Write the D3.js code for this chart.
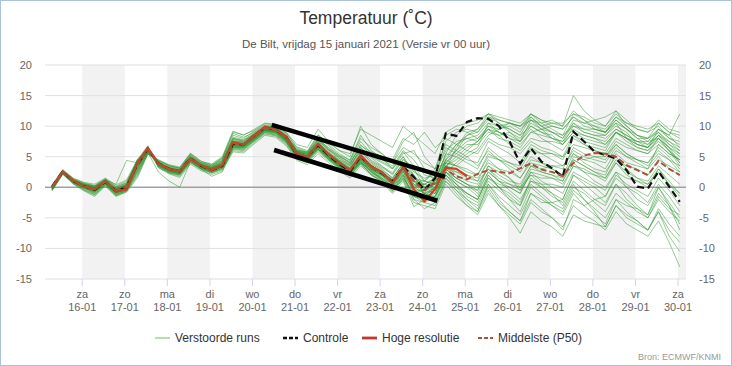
<!DOCTYPE html>
<html><head><meta charset="utf-8">
<script src="https://cdn.jsdelivr.net/npm/d3@7"></script>
<style>body{margin:0;background:#fff;} svg{display:block;font-family:"Liberation Sans",Arial,sans-serif;}</style>
</head><body><svg id="chart" width="732" height="366"></svg>
<script>
// time of each step: hours (local time) after 15-01 00:00
const hours = [7,13,19,25,31,37,43,49,55,61,67,73,79,85,91,97,103,109,115,121,127,133,139,145,151,157,163,169,175,181,187,193,199,205,211,217,223,229,235,241,247,253,259,265,271,277,283,289,295,301,307,313,319,325,331,337,343,349,355,361];

const tickHours = [24,48,72,96,120,144,168,192,216,240,264,288,312,336,360];
const tickDays  = ["za","zo","ma","di","wo","do","vr","za","zo","ma","di","wo","do","vr","za"];
const tickDates = ["16-01","17-01","18-01","19-01","20-01","21-01","22-01","23-01","24-01","25-01","26-01","27-01","28-01","29-01","30-01"];
const yTicks = [-15,-10,-5,0,5,10,15,20];
const bandStartHours = [24,72,120,168,216,264,312,360];

// Verstoorde runs (ensemble members)
const ensembleRuns = [
[-0.3,2.4,0.8,0.0,-0.8,0.6,-1.0,-0.2,2.5,5.8,4.0,3.2,2.8,5.0,3.8,3.2,4.2,8.0,7.5,8.8,9.8,9.9,8.6,6.0,5.5,7.5,6.0,4.5,3.5,6.0,4.0,3.0,1.5,4.0,2.0,-1.0,2.0,7.5,9.0,9.5,9.0,11.0,10.0,9.5,8.5,11.5,10.0,9.0,8.5,12.0,11.0,10.0,9.0,11.0,9.5,8.0,7.0,9.0,7.0,6.0],
[0.2,2.6,1.2,0.4,0.0,1.1,-0.3,0.5,4.2,6.5,3.5,2.6,2.2,4.3,3.2,2.5,3.2,6.5,6.2,7.8,9.2,8.8,7.5,5.0,4.6,6.2,5.0,3.6,2.5,4.5,3.0,2.0,0.5,2.5,0.0,0.5,1.5,4.5,6.0,7.5,8.0,10.0,9.5,10.0,9.0,12.0,11.0,10.5,10.0,12.5,11.0,9.5,9.0,11.5,10.0,8.5,8.0,10.5,9.0,8.5],
[-0.5,2.2,0.6,-0.4,-1.2,0.4,-1.3,-0.6,2.0,5.5,4.2,3.4,3.0,5.3,4.0,3.5,4.8,8.5,8.0,9.2,10.2,10.0,8.8,6.5,5.8,8.2,6.8,5.2,4.0,6.5,4.8,3.5,2.0,4.5,2.8,1.0,0.5,3.5,5.0,6.5,7.5,9.5,8.0,7.5,6.5,9.0,8.5,8.0,7.5,10.5,9.5,9.0,8.5,10.0,9.0,7.0,6.5,8.5,7.5,6.5],
[0.1,2.5,1.0,0.3,-0.2,1.0,-0.4,0.3,4.5,6.0,3.6,2.7,2.3,4.5,3.3,2.6,3.4,7.2,7.0,8.0,9.4,9.0,7.8,5.4,4.8,7.0,5.5,4.2,3.2,6.5,5.0,4.0,3.0,5.5,6.0,3.0,1.0,5.5,8.5,10.0,10.5,12.0,11.0,10.5,9.5,11.0,10.5,11.0,10.0,15.0,12.5,11.0,10.0,12.0,10.5,9.5,9.0,10.0,8.0,7.5],
[0.0,2.7,1.3,0.6,0.2,1.3,0.0,0.8,4.0,6.6,3.2,2.4,2.0,4.2,3.0,2.4,3.0,6.2,6.0,7.5,9.0,8.5,7.2,4.8,4.2,6.0,4.5,3.2,2.0,4.0,2.8,1.5,0.0,2.0,-0.5,-0.5,-1.0,2.5,4.0,5.5,6.5,10.5,9.0,8.0,7.5,11.0,10.0,10.5,10.5,12.0,11.5,10.5,10.0,12.5,11.0,9.5,9.0,11.0,9.5,9.0],
[-0.2,2.3,0.9,0.1,-0.5,0.8,-0.7,0.0,3.5,6.0,4.4,3.5,3.2,5.5,4.2,3.8,5.0,9.2,8.5,9.5,10.5,10.3,9.0,7.0,6.5,9.5,7.5,6.0,5.0,10.0,7.0,5.5,4.0,7.5,9.0,5.0,3.0,4.0,3.5,5.0,6.0,8.5,9.5,10.5,10.0,11.5,10.0,9.0,8.0,10.5,9.0,8.5,8.5,10.5,8.0,7.0,6.5,8.0,6.5,5.0],
[0.3,2.5,1.1,0.2,-0.4,0.9,-0.8,-0.3,3.0,6.3,3.9,3.0,2.6,4.8,3.6,3.0,3.8,7.5,7.2,8.4,9.5,9.2,7.9,5.2,4.4,6.4,4.8,3.4,2.2,4.4,2.6,1.2,-0.5,1.5,-1.0,-1.5,0.0,4.0,5.5,7.0,7.0,9.0,8.5,9.0,8.0,10.5,9.5,9.0,8.0,11.0,10.5,11.0,11.5,12.5,10.0,8.5,7.5,9.5,8.5,12.0],
[-0.1,2.6,1.0,0.3,-0.1,1.2,-0.2,0.4,4.4,6.2,3.7,2.8,2.4,4.6,3.4,2.8,3.5,6.8,6.6,8.0,9.8,9.6,8.4,6.2,5.6,7.8,6.4,5.0,4.2,7.5,5.5,4.5,3.5,6.0,4.5,2.0,1.5,5.0,7.0,8.5,9.0,11.5,10.5,9.5,8.5,10.0,9.0,8.5,7.0,9.0,8.5,8.0,7.5,9.5,8.5,7.5,7.0,8.5,7.0,5.5],
[0.0,2.4,0.9,0.0,-0.6,0.7,-0.9,-0.4,2.8,5.9,4.1,3.3,2.9,5.1,3.9,3.4,4.5,8.2,7.8,8.9,10.0,9.7,8.2,5.8,5.2,7.2,5.6,4.4,3.6,5.8,4.2,3.2,2.2,4.6,3.0,0.0,-0.5,3.0,6.5,9.0,9.5,12.0,10.5,9.0,7.5,9.5,8.0,7.0,6.0,8.5,7.5,7.0,6.5,9.0,8.0,6.5,6.0,7.5,6.0,4.5],
[0.2,2.7,1.2,0.5,0.1,1.1,-0.1,0.6,4.1,6.4,3.4,2.5,2.1,4.1,3.1,2.6,3.3,6.6,6.4,7.6,8.8,8.6,7.4,4.9,4.5,6.5,4.9,3.5,2.4,4.2,2.8,1.8,0.2,2.2,-1.5,-2.0,-0.5,3.5,4.5,6.0,7.5,10.0,9.0,8.0,7.0,9.0,9.5,10.0,9.5,11.5,10.0,9.5,9.0,10.5,9.5,8.5,8.0,9.0,7.5,6.0],
[-0.4,2.3,0.7,-0.2,-1.0,0.5,-1.2,-0.5,2.2,5.6,4.3,3.6,3.1,5.4,4.1,3.6,4.6,8.8,8.2,9.0,10.1,9.8,8.5,6.3,5.7,8.0,6.2,4.8,3.8,7.0,5.2,4.2,3.2,5.8,3.5,1.0,2.5,6.0,7.5,8.0,7.5,9.5,8.5,7.0,6.0,8.0,7.5,7.5,7.0,10.0,9.0,8.5,8.0,9.5,8.5,7.5,7.5,8.0,6.0,4.0],
[0.1,2.5,1.0,0.2,-0.3,1.0,-0.6,0.2,3.7,6.1,3.8,2.9,2.6,4.7,3.5,3.0,3.9,7.1,6.8,8.1,9.6,9.4,8.0,5.7,5.1,6.9,5.3,4.0,3.0,5.0,3.6,2.6,1.4,3.8,1.5,0.5,0.0,4.5,7.0,8.0,8.5,10.5,10.0,10.5,10.0,12.0,10.5,9.5,8.5,10.0,9.5,9.5,9.0,11.0,9.5,8.0,8.0,9.5,8.0,7.0],
[0.0,2.5,1.1,0.3,-0.2,0.9,-0.5,0.1,3.9,6.2,3.9,3.0,2.7,4.8,3.6,3.1,3.7,7.3,7.0,8.3,9.7,9.5,8.2,5.9,5.3,7.3,5.8,4.3,3.0,5.5,3.5,2.5,1.0,3.0,0.5,-1.0,-0.5,3.0,2.5,2.0,1.5,4.0,3.0,2.5,1.5,4.5,4.0,3.5,3.0,6.5,5.5,5.0,4.5,7.0,5.5,4.5,4.0,6.0,4.5,3.5],
[-0.2,2.4,0.8,0.0,-0.7,0.6,-1.1,-0.5,2.6,5.7,4.0,3.1,2.7,4.9,3.7,3.2,4.1,7.8,7.4,8.6,9.9,9.6,8.3,5.6,4.8,6.6,5.0,3.7,2.6,4.6,3.0,2.2,0.8,3.0,1.0,0.0,1.0,3.5,2.0,1.0,0.5,3.0,1.5,0.5,-0.5,3.0,2.5,2.0,1.5,4.5,3.5,2.5,2.0,5.5,4.0,3.5,3.0,7.0,5.5,4.5],
[0.3,2.8,1.4,0.7,0.3,1.4,0.2,1.0,4.3,6.7,3.3,2.3,1.8,4.0,2.9,2.3,2.9,6.0,5.8,7.3,8.7,8.4,7.0,4.6,4.0,5.8,4.3,3.0,1.8,3.8,2.2,1.2,-0.4,1.6,-1.5,-2.0,-1.5,2.5,1.5,0.5,0.0,3.5,2.5,1.5,0.0,3.5,3.0,3.5,3.5,6.0,5.0,4.5,4.0,6.5,5.0,4.0,3.0,5.0,3.0,2.0],
[-0.1,2.5,1.0,0.2,-0.4,0.9,-0.6,0.0,3.6,6.0,3.9,3.0,2.6,4.7,3.5,3.0,3.7,7.0,6.9,8.2,9.5,9.2,7.9,5.5,5.1,7.0,5.4,4.1,3.0,5.0,3.4,2.5,1.2,3.4,1.0,1.0,0.5,3.0,1.5,0.5,-1.0,2.5,1.0,0.5,0.0,2.0,1.5,1.5,1.0,5.0,4.5,5.0,5.0,7.5,6.5,6.0,5.5,8.0,6.5,5.5],
[0.0,2.6,1.1,0.4,0.0,1.0,-0.3,0.3,4.0,6.3,3.6,2.7,2.4,4.5,3.3,2.7,3.4,6.7,6.6,7.9,9.3,9.0,7.7,5.3,4.7,6.5,4.8,3.6,2.5,4.5,2.9,1.9,0.3,2.6,-0.8,-0.5,0.5,2.0,0.5,-1.0,-2.0,1.5,0.5,0.0,-1.0,2.5,2.0,1.5,0.5,3.5,3.0,2.0,1.0,4.0,2.0,1.0,0.0,3.0,1.0,-1.0],
[-0.6,2.1,0.5,-0.6,-1.5,0.2,-1.5,-0.8,1.5,5.4,4.5,3.7,3.3,5.6,4.3,3.7,4.8,9.0,8.6,9.3,10.4,10.2,8.9,6.6,6.0,8.6,7.0,5.5,4.4,8.5,6.0,4.8,3.0,5.0,2.0,-1.5,-1.0,3.5,2.5,1.5,1.0,3.0,1.0,-0.5,-2.0,1.0,0.5,0.5,0.0,3.5,2.5,2.0,1.5,4.5,3.5,3.0,2.0,4.5,3.5,2.5],
[0.2,2.6,1.2,0.5,0.0,1.2,-0.2,0.5,4.3,6.5,3.6,2.7,2.3,4.4,3.3,2.7,3.4,6.8,6.5,7.8,9.3,9.1,7.8,5.4,4.9,6.7,5.1,3.8,2.6,4.7,3.2,2.1,0.6,2.8,0.2,0.5,1.5,4.0,3.5,3.0,2.0,5.0,4.5,4.0,3.5,6.5,5.5,4.5,3.5,5.5,4.0,3.0,2.5,5.0,3.0,1.5,1.0,3.5,2.0,0.5],
[-0.3,2.3,0.8,-0.1,-0.9,0.6,-1.0,-0.3,3.2,6.0,4.1,3.2,2.8,4.9,3.7,3.3,4.2,7.6,7.4,8.5,9.9,9.6,8.3,5.9,5.4,7.4,5.7,4.3,3.3,5.6,3.8,2.8,1.6,3.9,1.2,-1.0,0.0,2.5,1.0,0.0,-0.5,3.5,2.0,1.0,0.5,3.5,2.5,2.0,1.0,4.0,2.5,1.0,0.0,2.5,1.5,1.0,0.5,3.0,0.5,-1.5],
[0.1,2.6,1.1,0.3,-0.2,1.0,-0.4,0.2,3.8,6.2,3.7,2.8,2.4,4.5,3.4,2.8,3.5,6.8,6.7,8.0,9.4,9.1,7.7,5.2,4.6,6.3,4.6,3.3,2.2,4.0,2.4,1.4,-0.2,1.8,-1.5,-2.5,-3.0,1.0,-0.5,-2.0,-3.0,0.5,-1.5,-3.0,-4.5,-1.0,-2.0,-3.0,-4.0,-0.5,-2.0,-3.5,-5.0,-2.0,-4.0,-5.5,-7.0,-4.0,-8.0,-10.5],
[-0.2,2.4,0.9,0.1,-0.5,0.8,-0.8,-0.1,3.4,6.0,4.0,3.1,2.7,4.8,3.6,3.1,3.9,7.4,7.2,8.4,9.7,9.4,8.1,5.7,5.2,7.1,5.4,4.0,2.9,5.2,3.5,2.4,0.9,3.1,0.0,-1.0,-2.0,2.0,0.5,-1.5,-2.5,1.0,-0.5,-2.0,-3.0,0.5,-1.0,-2.5,-3.5,0.0,-1.0,-2.5,-4.0,-1.0,-2.5,-4.0,-5.0,-2.0,-4.0,-5.5],
[0.0,2.5,1.0,0.2,-0.3,0.9,-0.5,0.1,3.7,6.1,3.8,2.9,2.5,4.6,3.5,2.9,3.6,6.9,6.8,8.1,9.5,9.2,7.8,5.4,4.8,6.6,4.9,3.5,2.3,4.2,2.5,1.3,-0.4,1.2,-2.5,-3.0,-3.5,0.5,-1.5,-3.0,-4.5,-1.0,-3.0,-4.5,-6.0,-2.5,-4.0,-5.0,-6.5,-3.0,-4.5,-5.5,-7.0,-4.0,-6.0,-7.0,-8.0,-5.5,-9.0,-13.0],
[0.4,2.9,1.5,0.8,0.5,1.5,0.4,1.2,4.5,6.8,3.2,2.2,1.6,3.8,2.7,2.1,2.7,5.8,5.6,7.1,8.5,8.2,6.8,4.4,3.7,5.5,4.0,2.7,1.5,3.5,2.0,1.0,-0.6,2.0,0.5,0.0,-1.0,2.5,1.0,0.0,-1.5,2.0,0.0,-1.5,-3.0,1.5,0.0,-1.5,-2.5,1.0,-0.5,-2.0,-3.0,0.5,-1.0,-3.0,-4.5,0.0,-2.5,-5.0],
[-0.5,2.2,0.6,-0.5,-1.3,0.3,-1.4,-0.7,1.8,5.5,4.4,3.5,3.1,5.2,4.0,3.5,4.4,8.0,7.7,8.7,9.9,9.7,8.4,5.8,5.0,6.8,5.0,3.5,2.3,4.0,2.0,0.8,-1.0,1.0,-3.2,-2.0,-1.5,1.5,-0.5,-2.5,-4.0,-0.5,-3.0,-5.0,-7.5,-4.0,-5.5,-6.5,-8.0,-4.5,-5.5,-6.0,-6.5,-3.0,-5.0,-6.0,-7.0,-4.0,-7.0,-9.0],
[0.1,2.5,1.0,0.3,-0.2,0.9,-0.5,0.2,3.9,6.3,3.8,2.9,2.5,4.6,3.5,2.9,3.6,7.0,6.9,8.2,9.6,9.3,8.0,5.6,5.0,6.8,5.2,3.9,2.8,4.9,3.3,2.4,1.0,3.2,-0.5,-1.5,-2.5,1.5,0.0,-1.0,-2.0,1.5,0.0,-1.0,-2.5,1.0,0.0,-1.0,-2.0,2.0,0.5,-1.0,-2.5,0.5,-2.0,-3.5,-5.0,-1.5,-3.5,-4.5],
[-0.1,2.4,0.9,0.0,-0.5,0.8,-0.7,0.0,3.5,6.0,3.9,3.0,2.6,4.7,3.6,3.0,3.8,7.2,7.0,8.3,9.7,9.4,8.1,5.8,5.2,7.1,5.5,4.1,3.0,5.1,3.4,2.5,1.1,3.3,1.0,0.5,-0.5,3.0,1.5,0.5,-0.5,2.5,1.0,0.0,-1.0,2.5,1.0,0.0,-1.0,2.5,1.5,0.5,-0.5,2.5,0.0,-2.0,-3.0,0.0,-3.0,-7.0],
[0.0,2.5,1.1,0.4,0.2,1.2,0.5,4.4,4.0,5.8,3.5,2.6,2.2,4.3,3.1,2.5,3.1,6.4,6.3,7.7,9.1,8.9,7.6,5.1,4.5,6.3,4.7,3.4,2.3,4.4,2.9,2.0,0.5,2.9,1.5,1.0,3.0,8.5,9.5,9.0,8.0,9.5,9.0,8.5,7.5,10.0,9.0,8.0,7.5,9.5,8.5,8.0,7.0,9.0,8.0,7.0,6.5,8.5,6.5,4.0],
[-0.4,2.2,0.7,-0.3,-1.1,0.4,-1.2,-0.6,2.4,5.7,2.5,1.0,0.0,4.2,3.0,1.8,2.5,6.5,6.6,8.0,9.3,9.0,7.6,5.2,4.7,6.6,5.0,3.6,2.6,4.8,3.2,2.3,0.9,3.5,2.0,0.0,0.5,4.5,3.5,2.5,2.0,5.5,4.5,3.5,2.5,5.0,4.0,3.0,2.0,4.5,3.5,2.5,1.5,4.0,2.5,1.5,0.5,2.5,0.5,-1.0],
[0.1,2.5,1.0,0.2,-0.3,0.9,-0.6,0.1,3.6,6.2,3.8,2.8,2.5,4.6,3.4,2.9,3.7,7.1,6.9,8.1,9.5,9.3,8.0,5.8,5.4,7.6,6.2,5.0,4.0,6.8,5.8,5.0,4.5,8.0,7.0,9.0,6.5,8.0,7.0,6.0,5.5,8.0,7.0,6.5,5.5,7.5,6.5,6.0,5.0,7.0,6.5,6.0,5.5,8.0,7.0,6.0,5.5,7.0,5.5,4.5],
[-0.2,2.4,0.9,0.1,-0.6,0.7,-0.8,-0.2,3.3,6.0,4.0,3.1,2.7,4.9,3.7,3.2,4.0,7.6,7.3,8.5,9.8,9.5,8.2,5.9,5.6,7.8,6.5,5.2,4.5,8.0,6.5,5.5,4.0,6.5,5.5,4.0,3.0,7.0,6.0,5.0,3.5,6.0,4.5,3.0,1.5,4.0,3.5,3.0,2.0,5.5,4.5,4.0,3.0,6.0,5.0,4.5,4.0,6.5,5.0,3.0],
[0.2,2.6,1.1,0.3,-0.2,1.0,-0.5,0.2,3.8,6.3,3.7,2.8,2.4,4.5,3.4,2.8,3.5,6.9,6.8,8.0,9.4,9.1,7.8,5.3,4.7,6.5,4.8,3.4,2.2,4.2,2.6,1.6,0.0,2.0,-2.0,-3.5,-2.5,1.0,-1.0,-3.0,-4.0,0.5,-2.0,-4.0,-5.5,-1.0,-2.5,-2.5,-2.0,2.0,1.0,0.0,-1.5,2.0,0.5,-0.5,-1.5,1.5,-0.5,-3.0],
[-0.3,2.3,0.8,-0.1,-0.8,0.6,-0.9,-0.4,2.9,5.9,4.1,3.2,2.8,5.0,3.8,3.3,4.3,7.9,7.6,8.7,10.0,9.7,8.4,6.1,5.5,7.7,6.1,4.7,3.7,6.2,4.4,3.4,2.4,5.0,2.5,1.5,2.0,6.5,5.5,4.5,4.0,7.5,6.5,5.5,4.0,7.0,6.0,5.5,4.5,8.0,7.0,6.5,6.0,9.0,7.5,6.5,6.0,8.0,6.0,3.5],
[0.0,2.6,1.2,0.4,-0.1,1.1,-0.3,0.4,4.1,6.4,3.6,2.6,2.2,4.4,3.2,2.6,3.3,6.6,6.5,7.8,9.2,8.9,7.5,5.0,4.4,6.2,4.5,3.1,2.0,3.8,2.1,1.0,-0.8,1.4,-2.0,-2.5,-1.5,2.5,0.5,-1.0,-2.0,2.0,0.0,-2.0,-4.0,0.0,-1.5,-3.0,-4.5,-1.0,-3.0,-4.5,-6.0,-2.0,-3.0,-3.5,-4.5,-1.0,-3.0,-6.0],
[-0.1,2.5,1.0,0.2,-0.4,0.9,-0.6,0.0,3.7,6.1,3.9,3.0,2.6,4.7,3.5,3.0,3.8,7.2,7.0,8.3,9.7,9.5,8.2,6.0,5.8,8.5,7.2,6.0,5.5,9.5,8.5,7.5,6.5,10.0,8.5,7.0,5.5,9.0,10.0,10.5,11.0,12.0,11.5,11.0,10.5,12.0,11.0,10.0,9.5,11.5,10.5,10.0,9.5,11.5,10.5,10.0,9.5,10.5,9.0,8.0],
[0.3,2.7,1.3,0.6,0.2,1.3,0.1,0.7,4.2,6.6,3.4,2.4,2.0,4.2,3.0,2.4,3.1,6.3,6.1,7.6,9.0,8.7,7.3,4.9,4.3,6.1,4.6,3.3,2.2,4.1,2.5,1.5,0.2,2.4,0.8,0.0,1.0,5.5,5.0,4.0,3.0,6.5,5.0,4.0,3.0,6.0,5.5,5.5,5.0,8.5,7.0,6.0,5.0,7.0,5.5,4.5,3.5,5.5,4.5,2.5],
[-0.2,2.3,0.8,-0.1,-0.7,0.6,-0.9,-0.3,3.1,5.9,4.0,3.1,2.7,4.8,3.6,3.1,3.9,7.3,7.1,8.3,9.6,9.3,8.0,5.5,4.9,6.8,5.1,3.8,2.7,4.7,3.0,2.0,0.4,2.7,-1.0,-1.5,0.0,3.5,3.0,2.0,1.0,4.5,3.0,1.5,-0.5,2.0,0.5,-1.0,-3.0,0.5,-2.0,-4.0,-6.5,-3.0,-4.5,-5.5,-7.0,-3.5,-6.0,-8.0],
[0.0,2.5,1.0,0.3,-0.2,1.0,-0.5,0.2,3.8,6.2,3.8,2.9,2.5,4.6,3.5,2.9,3.6,7.0,6.9,8.2,9.6,9.3,8.0,5.6,5.0,6.9,5.3,3.9,2.8,5.0,3.4,2.4,1.0,3.3,0.5,-0.5,0.5,4.0,6.0,8.5,9.5,11.5,11.0,10.5,10.0,11.0,9.5,8.0,7.0,9.0,8.0,7.5,7.0,9.0,8.0,7.5,6.5,9.5,8.5,6.5],
[0.2,2.6,1.1,0.4,-0.1,1.1,-0.4,0.3,3.9,6.3,3.7,2.8,2.4,4.5,3.3,2.8,3.5,6.8,6.7,8.0,9.4,9.1,7.7,5.3,4.7,6.6,5.0,3.6,2.5,4.6,3.0,2.2,0.6,3.0,0.0,-1.0,-1.5,2.0,0.0,-2.0,-3.5,0.0,-2.5,-4.0,-5.5,-2.0,-3.5,-5.0,-7.0,-2.0,-3.0,-2.0,-1.5,1.5,0.0,-1.0,-2.5,0.5,-1.5,-4.0]
];

// Controle
const controlRun = [0.1,2.6,1.0,0.2,-0.4,0.9,-0.6,0.0,3.7,6.3,3.9,3.0,2.6,4.8,3.5,2.8,3.5,7.1,7.0,8.4,9.8,9.4,8.3,5.3,5.0,6.9,5.2,3.8,2.6,5.0,3.4,2.3,1.0,3.3,1.7,-0.5,1.5,8.8,8.4,10.7,11.3,11.2,10.0,7.5,3.9,6.4,4.2,3.1,1.7,9.1,7.5,5.8,5.3,4.7,2.8,0.1,-0.2,2.6,0.1,-2.4];
// Hoge resolutie (runs to +240h)
const hresRun = [0.0,2.6,1.1,0.1,-0.3,1.0,-0.7,-0.3,3.9,6.4,3.9,3.0,2.6,4.7,3.6,2.8,3.6,7.4,7.0,8.5,9.9,9.4,8.3,5.4,5.0,7.1,5.4,4.0,2.8,5.2,3.4,2.5,0.7,3.4,-0.3,-2.3,-0.3,3.2,3.0,1.8];
// Middelste (P50)
const medianRun = [0.0,2.5,1.0,0.2,-0.3,0.9,-0.5,0.1,3.7,6.1,3.8,2.9,2.6,4.7,3.5,3.0,3.7,7.2,7.0,8.3,9.6,9.4,8.1,5.6,5.0,7.0,5.3,4.0,2.9,5.0,3.3,2.4,1.0,3.2,1.0,-0.5,0.8,2.9,1.8,1.3,2.2,2.8,2.5,2.3,3.1,3.9,2.9,2.5,1.8,4.0,5.2,5.6,5.5,5.0,3.6,2.8,2.0,4.3,3.0,2.0];

// hand-drawn trend channel (hour, °C)
const trendUpper = [[130.9,10.2],[228.6,1.7]];
const trendLower = [[132.2,6.1],[224.3,-2.2]];

const legendItems = ["Verstoorde runs","Controle","Hoge resolutie","Middelste (P50)"];

const svg = d3.select("#chart");
const W = 732, H = 366;
const pL = 45, pR = 686, pT = 65, pB = 279;

const x = d3.scaleLinear().domain([3, 364.5]).range([pL, pR]);
const y = d3.scaleLinear().domain([-15, 20]).range([pB, pT]);

// border
svg.append("rect").attr("x",0.5).attr("y",0.5).attr("width",W-1).attr("height",H-1)
  .attr("fill","#fff").attr("stroke","#a9c3d8").attr("stroke-width",1);

// title
svg.append("text").attr("x",366).attr("y",24).attr("text-anchor","middle")
  .attr("font-size",17.5).attr("fill","#333").text("Temperatuur (˚C)");
svg.append("text").attr("x",366).attr("y",48).attr("text-anchor","middle")
  .attr("font-size",11.5).attr("fill","#555").text("De Bilt, vrijdag 15 januari 2021 (Versie vr 00 uur)");

// bands
const xEnd = x.domain()[1];
svg.append("g").selectAll("rect").data(bandStartHours).join("rect")
  .attr("x", d => x(d)).attr("y", pT)
  .attr("width", d => x(Math.min(d+24, xEnd)) - x(d))
  .attr("height", pB - pT).attr("fill","#f2f2f2");

// gridlines
svg.append("g").selectAll("line").data(yTicks).join("line")
  .attr("x1", pL).attr("x2", pR)
  .attr("y1", d => y(d)).attr("y2", d => y(d))
  .attr("stroke", d => d === 0 ? "#a0a0a0" : "#e0e0e0")
  .attr("stroke-width", d => d === 0 ? 1.6 : 1);

// y labels
const yl = svg.append("g").attr("font-size",11).attr("fill","#666");
yl.selectAll("text.l").data(yTicks).join("text").attr("class","l")
  .attr("x",32).attr("y",d=>y(d)+4).attr("text-anchor","end").text(d=>d);
yl.selectAll("text.r").data(yTicks).join("text").attr("class","r")
  .attr("x",699).attr("y",d=>y(d)+4).attr("text-anchor","start").text(d=>d);

// x axis ticks
const xa = svg.append("g");
xa.selectAll("line").data(tickHours).join("line")
  .attr("x1",d=>x(d)).attr("x2",d=>x(d)).attr("y1",pB).attr("y2",pB+7)
  .attr("stroke","#ccd6eb");
xa.selectAll("text.d").data(tickHours).join("text").attr("class","d")
  .attr("x",d=>x(d)).attr("y",298).attr("text-anchor","middle")
  .attr("font-size",11).attr("fill","#666").text((d,i)=>tickDays[i]);
xa.selectAll("text.t").data(tickHours).join("text").attr("class","t")
  .attr("x",d=>x(d)).attr("y",311).attr("text-anchor","middle")
  .attr("font-size",11).attr("fill","#666").text((d,i)=>tickDates[i]);

// clip
svg.append("clipPath").attr("id","plotclip").append("rect")
  .attr("x",pL).attr("y",pT).attr("width",pR-pL).attr("height",pB-pT);
const plot = svg.append("g").attr("clip-path","url(#plotclip)");

const line = d3.line().x((d,i)=>x(hours[i])).y(d=>y(d));

plot.append("g").selectAll("path").data(ensembleRuns).join("path")
  .attr("d", line).attr("fill","none")
  .attr("stroke","rgb(45,150,45)").attr("stroke-opacity",0.5).attr("stroke-width",1);

plot.append("path").attr("d", line(controlRun)).attr("fill","none")
  .attr("stroke","#111").attr("stroke-width",2.2).attr("stroke-dasharray","7,4");

plot.append("path").attr("d", line(hresRun)).attr("fill","none")
  .attr("stroke","#cf3d22").attr("stroke-width",2.2).attr("stroke-linejoin","round");

plot.append("path").attr("d", line(medianRun)).attr("fill","none")
  .attr("stroke","#a8543a").attr("stroke-width",2).attr("stroke-dasharray","6,3");

// trend channel annotations
const tl = d3.line().x(d=>x(d[0])).y(d=>y(d[1]));
[trendUpper, trendLower].forEach(t => {
  svg.append("path").attr("d", tl(t)).attr("fill","none")
    .attr("stroke","#000").attr("stroke-width",4.5).attr("stroke-linecap","butt");
});

// legend
const lg = svg.append("g").attr("font-size",12).attr("fill","#333");
const legendX = [155, 283, 362, 478];
const legendSym = [
  {stroke:"#9ad49a", w:1.5, dash:null},
  {stroke:"#111", w:2.5, dash:"4,2"},
  {stroke:"#c0392b", w:2.8, dash:null},
  {stroke:"#a8543a", w:2, dash:"4,2"}
];
legendItems.forEach((name,i)=>{
  const lx = legendX[i];
  const p = lg.append("line").attr("x1",lx).attr("x2",lx+15).attr("y1",338).attr("y2",338)
    .attr("stroke",legendSym[i].stroke).attr("stroke-width",legendSym[i].w);
  if (legendSym[i].dash) p.attr("stroke-dasharray",legendSym[i].dash);
  lg.append("text").attr("x",lx+20).attr("y",342).text(name);
});

svg.append("text").attr("x",721).attr("y",360).attr("text-anchor","end")
  .attr("font-size",9).attr("fill","#999").text("Bron: ECMWF/KNMI");
</script></body></html>
